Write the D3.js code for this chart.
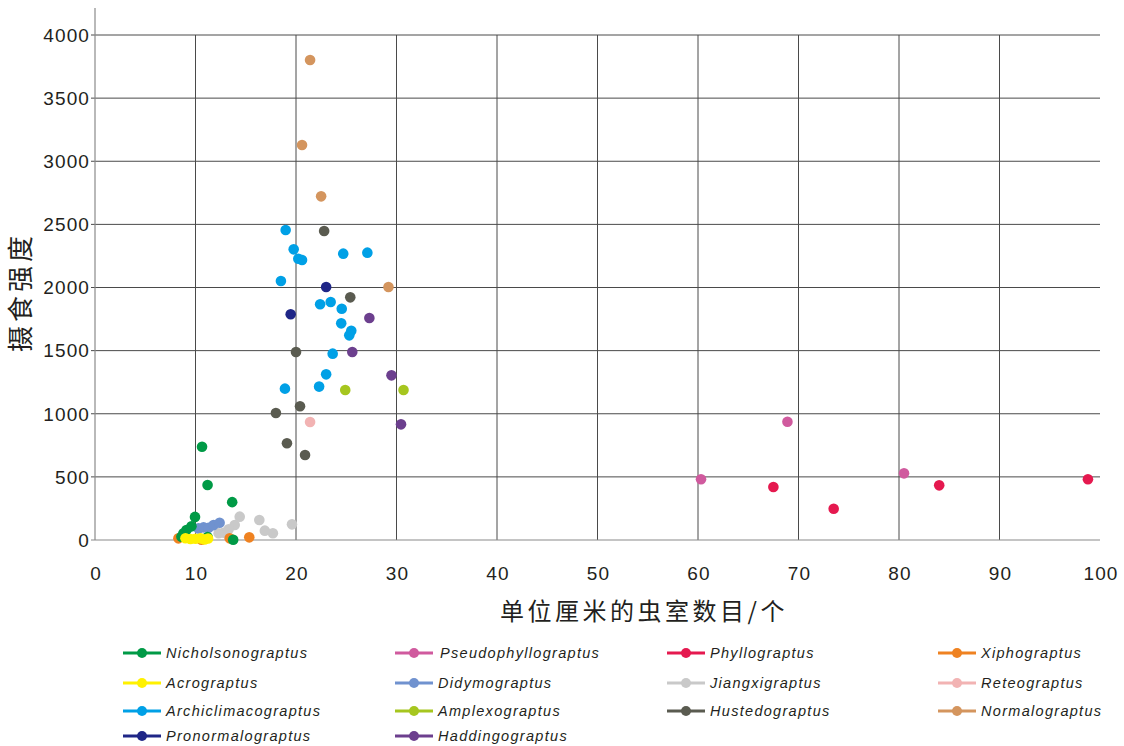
<!DOCTYPE html>
<html><head><meta charset="utf-8">
<script src="https://cdn.jsdelivr.net/npm/d3@7"></script>
<style>
html,body{margin:0;padding:0;background:#fff;}
svg{display:block;}
</style></head>
<body><svg id="c" width="1124" height="746"></svg>
<script>
// ---- data ----
const xTicks = [0,10,20,30,40,50,60,70,80,90,100];
const yTicks = [0,500,1000,1500,2000,2500,3000,3500,4000];
const xTitle = "单位厘米的虫室数目/个";
const yTitle = "摄食强度";

const Nicholsonograptus = [[10.65,739],[11.2,436],[13.65,300],[9.95,183],[9.6,108],[9.1,79],[8.8,53],[8.6,26],[11.2,24],[13.75,2]];
const Pseudophyllograptus = [[60.3,481],[68.9,937],[80.5,528]];
const Phyllograptus = [[67.5,420],[73.5,248],[84.0,433],[98.8,481]];
const Xiphograptus = [[8.3,13],[10.6,2],[13.4,13],[15.35,21]];
const Acrograptus = [[9.0,14],[9.5,8],[10.0,10],[10.5,13],[10.9,4],[11.25,12]];
const Didymograptus = [[10.3,92],[10.8,100],[11.3,97],[11.8,118],[12.4,137]];
const Jiangxigraptus = [[14.4,185],[13.9,119],[13.3,85],[12.8,58],[12.3,53],[16.35,158],[16.9,74],[17.7,53],[19.6,124]];
const Reteograptus = [[21.4,935]];
const Archiclimacograptus = [[18.97,2455],[19.77,2302],[20.23,2228],[20.6,2218],[24.7,2268],[27.1,2276],[18.5,2051],[22.4,1867],[23.45,1885],[24.55,1832],[24.5,1716],[25.5,1658],[25.3,1621],[23.65,1476],[23.0,1312],[22.3,1215],[18.9,1199]];
const Amplexograptus = [[24.9,1188],[30.7,1188]];
const Hustedograptus = [[22.8,2448],[25.4,1922],[20.0,1489],[20.4,1059],[18.0,1006],[19.1,766],[20.9,673]];
const Normalograptus = [[21.4,3802],[20.6,3129],[22.5,2722],[29.2,2004]];
const Pronormalograptus = [[23.0,2004],[19.47,1788]];
const Haddingograptus = [[27.3,1758],[25.6,1489],[29.5,1304],[30.45,916]];

const seriesNames = ["Nicholsonograptus","Pseudophyllograptus","Phyllograptus","Xiphograptus",
  "Acrograptus","Didymograptus","Jiangxigraptus","Reteograptus",
  "Archiclimacograptus","Amplexograptus","Hustedograptus","Normalograptus",
  "Pronormalograptus","Haddingograptus"];
const seriesColors = ["#009a46","#d05a9e","#e5194f","#ef8221",
  "#fff100","#7092cf","#c9c9c9","#f2b3b3",
  "#00a0e6","#a6c61f","#5a5b50","#d4955e",
  "#1f2687","#6c3f8e"];
const seriesData = [Nicholsonograptus,Pseudophyllograptus,Phyllograptus,Xiphograptus,
  Acrograptus,Didymograptus,Jiangxigraptus,Reteograptus,
  Archiclimacograptus,Amplexograptus,Hustedograptus,Normalograptus,
  Pronormalograptus,Haddingograptus];
// draw order (back to front)
const drawOrder = ["Normalograptus","Archiclimacograptus","Pronormalograptus","Hustedograptus","Haddingograptus",
  "Amplexograptus","Reteograptus","Pseudophyllograptus","Phyllograptus",
  "Jiangxigraptus","Didymograptus","Xiphograptus","Nicholsonograptus","Acrograptus"];

// ---- chart ----
const svg = d3.select("#c");
const x = d3.scaleLinear().domain([0,100]).range([95,1100]);
const y = d3.scaleLinear().domain([0,4000]).range([540,35]);
const fontNum = "'Liberation Sans', Arial, sans-serif";
const fontCJK = "'Noto Sans CJK SC', sans-serif";

// grid
const g = svg.append("g");
g.selectAll("line.h").data(yTicks.filter(d=>d>0)).join("line")
  .attr("x1", x(0)-4).attr("x2", x(100)).attr("y1", d=>y(d)).attr("y2", d=>y(d))
  .attr("stroke","#4a4a4a").attr("stroke-width",1);
g.selectAll("line.v").data(xTicks.filter(d=>d>0 && d<100)).join("line")
  .attr("x1", d=>x(d)).attr("x2", d=>x(d)).attr("y1", y(0)).attr("y2", y(4000))
  .attr("stroke","#4a4a4a").attr("stroke-width",1);
// axes lines
g.append("line").attr("x1",x(0)-4).attr("x2",x(100)).attr("y1",y(0)).attr("y2",y(0))
  .attr("stroke","#8a8a8a").attr("stroke-width",1.2);
g.append("line").attr("x1",x(0)).attr("x2",x(0)).attr("y1",y(0)).attr("y2",8)
  .attr("stroke","#8a8a8a").attr("stroke-width",1.2);

// tick labels
svg.append("g").selectAll("text").data(yTicks).join("text")
  .attr("x", 90).attr("y", d=>y(d)).attr("dy","0.36em")
  .attr("text-anchor","end").attr("font-family",fontNum).attr("font-size",19)
  .attr("letter-spacing","1.1px").attr("fill","#231f20").text(d=>d);
svg.append("g").selectAll("text").data(xTicks).join("text")
  .attr("x", d=>x(d)+1).attr("y", 580)
  .attr("text-anchor","middle").attr("font-family",fontNum).attr("font-size",19)
  .attr("letter-spacing","1.1px").attr("fill","#231f20").text(d=>d);

// titles
svg.append("text").attr("x",644).attr("y",620).attr("text-anchor","middle")
  .attr("font-family",fontCJK).attr("font-size",24).attr("letter-spacing","3.5px")
  .attr("fill","#231f20").text(xTitle);
svg.append("text").attr("transform","translate(30,292) rotate(-90)").attr("text-anchor","middle")
  .attr("font-family",fontCJK).attr("font-size",26).attr("letter-spacing","4px")
  .attr("fill","#231f20").text(yTitle);

// points
const pts = svg.append("g");
drawOrder.forEach(name=>{
  const i = seriesNames.indexOf(name);
  pts.append("g").selectAll("circle").data(seriesData[i]).join("circle")
    .attr("cx", d=>x(d[0])).attr("cy", d=>y(d[1])).attr("r",5.3)
    .attr("fill", seriesColors[i]);
});

// legend
const colX = [123, 395, 667, 938];
const rowY = [653, 683, 711, 736];
const leg = svg.append("g");
seriesNames.forEach((name,i)=>{
  const cx = colX[i%4], cy = rowY[Math.floor(i/4)];
  const gi = leg.append("g").attr("transform",`translate(${cx},${cy})`);
  gi.append("line").attr("x1",0).attr("x2",38).attr("y1",0).attr("y2",0)
    .attr("stroke",seriesColors[i]).attr("stroke-width",3);
  gi.append("circle").attr("cx",19).attr("cy",0).attr("r",5).attr("fill",seriesColors[i]);
  gi.append("text").attr("x", name==="Pseudophyllograptus"?45:43).attr("y",0).attr("dy","0.36em")
    .attr("font-family",fontNum).attr("font-style","italic").attr("font-size",14.5)
    .attr("letter-spacing","1.3px").attr("fill","#231f20").text(name);
});
</script></body></html>
